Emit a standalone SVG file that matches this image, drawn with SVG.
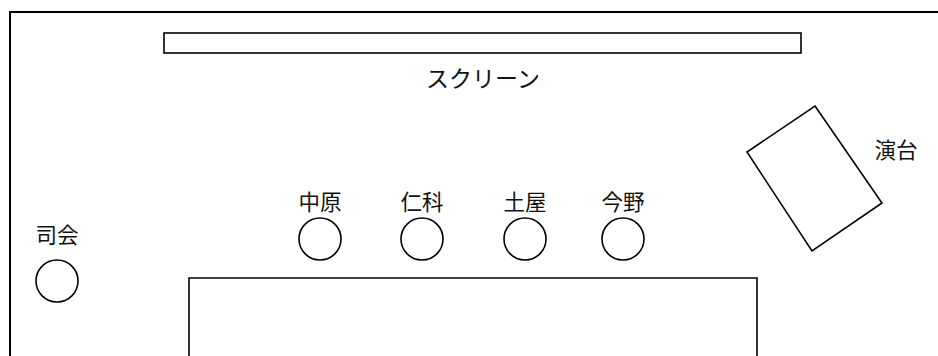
<svg xmlns="http://www.w3.org/2000/svg" width="938" height="356" viewBox="0 0 938 356">
<style>
.ln{fill:none;stroke:#000;stroke-width:1.6}
.fr{fill:none;stroke:#000;stroke-width:2}
.lb{font-family:"Noto Sans CJK JP","Noto Sans CJK SC",sans-serif;font-size:21.5px;fill:#111;text-anchor:middle;dominant-baseline:central}
</style>
<rect width="938" height="356" fill="#fff"/>
<g id="room"><path class="fr" d="M945,12 H10 V370"/></g>
<g id="screen">
<rect class="ln" x="164" y="33" width="637" height="20"/>
<text class="lb" x="483" y="77" style="font-size:23px">スクリーン</text>
</g>
<g id="podium">
<polygon class="ln" points="815,106 882,203 812,251 747,152"/>
<text class="lb" x="896" y="148">演台</text>
</g>
<g id="mc">
<text class="lb" x="57" y="233">司会</text>
<circle class="ln" cx="57" cy="281" r="21"/>
</g>
<g id="nakahara">
<text class="lb" x="320" y="200">中原</text>
<circle class="ln" cx="320" cy="239" r="21"/>
</g>
<g id="nishina">
<text class="lb" x="422" y="200">仁科</text>
<circle class="ln" cx="422" cy="239" r="21"/>
</g>
<g id="tsuchiya">
<text class="lb" x="525" y="200">土屋</text>
<circle class="ln" cx="525" cy="239" r="21"/>
</g>
<g id="konno">
<text class="lb" x="623" y="200">今野</text>
<circle class="ln" cx="623" cy="239" r="21"/>
</g>
<g id="table"><path class="ln" d="M189,370 V278 H757 V370"/></g>
<g id="connectors"></g>
</svg>
